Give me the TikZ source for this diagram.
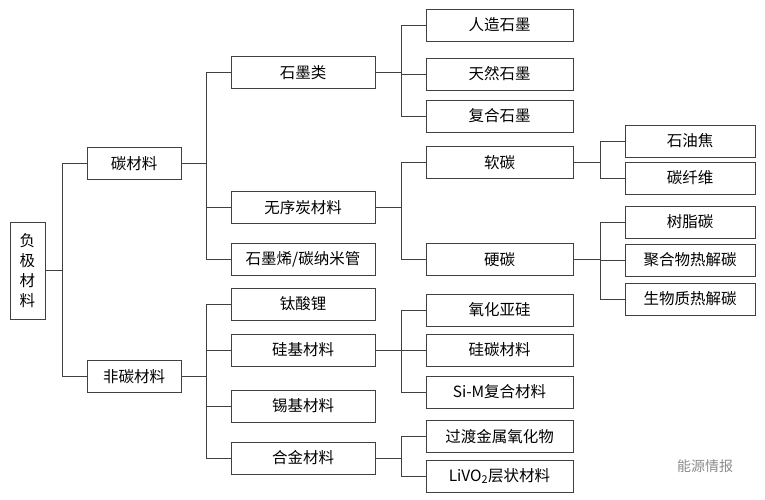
\documentclass[tikz,border=0pt]{standalone}
\usepackage{fontspec}
\setmainfont{Noto Sans CJK SC}
\begin{document}
\begin{tikzpicture}[x=1pt,y=-1pt,
  box/.style={draw=black!75, line width=0.9pt, minimum height=32pt, inner sep=0pt, font=\fontsize{15.5}{18}\selectfont},
  lv1/.style={box, minimum width=94pt},
  lv2/.style={box, minimum width=144pt},
  lv3/.style={box, minimum width=147pt},
  lv4/.style={box, minimum width=130pt},
  link/.style={draw=black!75, line width=0.9pt}]
\useasboundingbox (0,0) rectangle (765,500);
% root
\node[box, minimum width=35pt, minimum height=97pt, align=center,
  font=\fontsize{15.5}{20}\selectfont] (root) at (27.5,270.5) {负\\极\\材\\料};
% level 1
\node[lv1] (carbon) at (134,163.5) {碳材料};
\node[lv1] (noncarbon) at (134,376.5) {非碳材料};
% level 2
\node[lv2] (graphite) at (303,72.5) {石墨类};
\node[lv2] (disorder) at (303,207.5) {无序炭材料};
\node[lv2] (graphene) at (303,259) {石墨烯/碳纳米管};
\node[lv2] (lto) at (303,304) {钛酸锂};
\node[lv2] (sibase) at (303,350) {硅基材料};
\node[lv2] (snbase) at (303,406) {锡基材料};
\node[lv2] (alloy) at (303,458) {合金材料};
% level 3
\node[lv3] (artificial) at (499.5,25) {人造石墨};
\node[lv3] (natural) at (499.5,74) {天然石墨};
\node[lv3] (composite) at (499.5,116) {复合石墨};
\node[lv3] (soft) at (499.5,162.5) {软碳};
\node[lv3] (hard) at (499.5,259.5) {硬碳};
\node[lv3] (siox) at (499.5,310) {氧化亚硅};
\node[lv3] (sic) at (499.5,350) {硅碳材料};
\node[lv3] (sim) at (499.5,392) {Si-M复合材料};
\node[lv3] (tmo) at (499.5,436.5) {过渡金属氧化物};
\node[lv3] (livo) at (499.5,476) {LiVO\textsubscript{2}层状材料};
% level 4
\node[lv4] (coke) at (690,141) {石油焦};
\node[lv4] (fiber) at (690,178) {碳纤维};
\node[lv4] (resin) at (690,222) {树脂碳};
\node[lv4] (polymer) at (690,260) {聚合物热解碳};
\node[lv4] (biomass) at (690,299) {生物质热解碳};
% branches
\foreach \p/\bx/\cs in {root/62/{carbon,noncarbon},
    carbon/206/{graphite,disorder,graphene},
    noncarbon/206/{lto,sibase,snbase,alloy},
    graphite/401/{artificial,natural,composite},
    disorder/401/{soft,hard},
    sibase/401/{siox,sic,sim},
    alloy/401/{tmo,livo},
    soft/600/{coke,fiber},
    hard/600/{resin,polymer,biomass}}{
  \draw[link] (\p.east) -- (\bx,0 |- \p.east);
  \foreach \c in \cs {\draw[link] (\bx,0 |- \p.east) |- (\c.west);}
}
\node[text=black!45, font=\fontsize{14}{16}\selectfont] (mark) at (705,466) {能源情报};
\end{tikzpicture}
\end{document}
